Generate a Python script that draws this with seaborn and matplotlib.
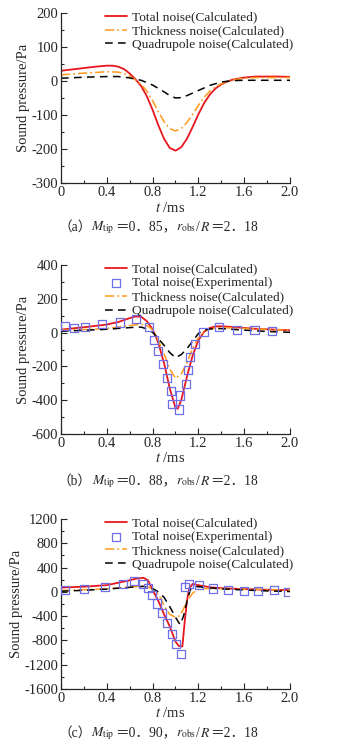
import matplotlib
matplotlib.use('Agg')
import matplotlib.pyplot as plt
import seaborn as sns
from matplotlib.ticker import MultipleLocator
from matplotlib.offsetbox import TextArea, HPacker, AnchoredOffsetbox

# ---- data ----
# (a) M_tip = 0.85
t_a_total = [0, 0.1, 0.2, 0.3, 0.4, 0.45, 0.5, 0.55, 0.6, 0.65, 0.7, 0.75, 0.8, 0.85, 0.9, 0.95,
             1.0, 1.05, 1.1, 1.15, 1.2, 1.25, 1.3, 1.35, 1.4, 1.45, 1.5, 1.6, 1.7, 1.8, 1.9, 2.0]
p_a_total = [30, 34, 38, 42, 45, 45, 42, 35, 22, 5, -15, -45, -85, -130, -170, -197,
             -205, -195, -170, -135, -98, -65, -40, -22, -10, -2, 4, 10, 13, 13, 13, 12]
t_a_thick = [0, 0.2, 0.4, 0.5, 0.55, 0.6, 0.65, 0.7, 0.75, 0.8, 0.85, 0.9, 0.95, 1.0, 1.05,
             1.1, 1.15, 1.2, 1.25, 1.3, 1.35, 1.4, 1.45, 1.5, 1.6, 1.7, 1.8, 2.0]
p_a_thick = [18, 23, 27, 26, 22, 14, 3, -10, -30, -58, -90, -120, -140, -147, -140,
             -122, -98, -72, -48, -30, -17, -8, -2, 3, 8, 10, 10, 10]
t_a_quad = [0, 0.2, 0.4, 0.5, 0.6, 0.7, 0.8, 0.9, 0.95, 1.0, 1.05, 1.1, 1.2, 1.3, 1.4, 1.5, 1.6, 1.8, 2.0]
p_a_quad = [8, 11, 13, 13, 9, 2, -12, -32, -43, -50, -49, -43, -28, -13, -3, 1, 2, 2, 2]

# (b) M_tip = 0.88
t_b_total = [0, 0.1, 0.2, 0.3, 0.4, 0.5, 0.6, 0.65, 0.7, 0.75, 0.8, 0.85, 0.9, 0.95, 1.0, 1.02,
             1.05, 1.1, 1.15, 1.2, 1.25, 1.3, 1.35, 1.4, 1.5, 1.6, 1.7, 1.8, 1.9, 2.0]
p_b_total = [18, 25, 32, 40, 48, 63, 86, 96, 94, 68, 20, -60, -180, -330, -445, -450,
             -400, -260, -135, -45, 5, 28, 37, 38, 33, 28, 23, 20, 17, 14]
t_b_exp = [0.035, 0.11, 0.21, 0.36, 0.515, 0.655, 0.77, 0.812, 0.85, 0.888, 0.929, 0.958, 0.972,
           1.03, 1.04, 1.094, 1.11, 1.13, 1.167, 1.245, 1.38, 1.535, 1.69, 1.84]
p_b_exp = [38, 26, 31, 49, 60, 82, 32, -41, -110, -188, -266, -346, -422,
           -455, -372, -302, -222, -146, -68, 2, 36, 18, 14, 10]
t_b_thick = [0, 0.2, 0.4, 0.6, 0.7, 0.75, 0.8, 0.85, 0.9, 0.95, 1.0, 1.05, 1.1, 1.15, 1.2, 1.25,
             1.3, 1.4, 1.6, 1.8, 2.0]
p_b_thick = [14, 18, 25, 42, 50, 42, 18, -45, -125, -215, -270, -245, -178, -92, -30, 5,
             22, 30, 25, 20, 14]
t_b_quad = [0, 0.2, 0.4, 0.6, 0.7, 0.75, 0.8, 0.85, 0.9, 0.95, 1.0, 1.05, 1.1, 1.15, 1.2, 1.25,
            1.3, 1.4, 1.6, 1.8, 2.0]
p_b_quad = [8, 14, 20, 30, 33, 22, 2, -35, -75, -118, -148, -130, -95, -50, -5, 15,
            22, 24, 15, 7, 2]

# (c) M_tip = 0.90
t_c_total = [0, 0.2, 0.4, 0.6, 0.65, 0.72, 0.76, 0.8, 0.85, 0.9, 0.95, 1.0, 1.03, 1.06, 1.08,
             1.1, 1.12, 1.15, 1.2, 1.3, 1.4, 1.6, 1.8, 2.0]
p_c_total = [70, 85, 110, 190, 215, 232, 190, 30, -150, -370, -570, -820, -895, -900, -500,
             -150, 60, 130, 110, 75, 60, 45, 35, 28]
t_c_exp = [0.035, 0.204, 0.384, 0.539, 0.64, 0.719, 0.757, 0.792, 0.835, 0.885, 0.928, 0.967,
           1.004, 1.045, 1.083, 1.12, 1.208, 1.325, 1.461, 1.598, 1.723, 1.86, 1.985]
p_c_exp = [30, 46, 84, 135, 180, 135, 58, -45, -192, -345, -520, -700,
           -855, -1020, 74, 128, 110, 55, 30, 16, 18, 30, 2]
t_c_thick = [0, 0.2, 0.4, 0.6, 0.72, 0.76, 0.8, 0.85, 0.875, 0.9, 0.95, 1.0, 1.03, 1.06, 1.1,
             1.15, 1.2, 1.25, 1.4, 1.6, 2.0]
p_c_thick = [20, 35, 50, 78, 95, 80, 40, -40, -120, -230, -370, -420, -400, -320, -160,
             -20, 40, 55, 50, 40, 30]
t_c_quad = [0, 0.2, 0.4, 0.6, 0.72, 0.8, 0.85, 0.9, 0.95, 1.0, 1.04, 1.07, 1.1, 1.13, 1.16,
            1.2, 1.3, 1.4, 1.6, 1.8, 2.0]
p_c_quad = [10, 25, 45, 75, 90, 55, 0, -90, -245, -420, -540, -400, -160, 40, 85,
            85, 65, 50, 30, 15, 5]

# caption pieces: plain text parts fall back to the CJK font for the full-width signs
captions = [['（a）', '$M_{\\rm tip}$', '＝0．85，', '$r_{\\rm obs}$', '/', '$R$', '＝2．18'],
            ['（b）', '$M_{\\rm tip}$', '＝0．88，', '$r_{\\rm obs}$', '/', '$R$', '＝2．18'],
            ['（c）', '$M_{\\rm tip}$', '＝0．90，', '$r_{\\rm obs}$', '/', '$R$', '＝2．18']]

RED = '#e8161e'
ORANGE = '#ff9a1a'
BLUE = '#6e6ee6'

sns.set_style('ticks')
plt.rcParams['font.family'] = ['Liberation Serif', 'Noto Sans CJK SC', 'DejaVu Sans']
plt.rcParams['mathtext.fontset'] = 'stix'
plt.rcParams['axes.unicode_minus'] = False
plt.rcParams['font.size'] = 10

fig = plt.figure(figsize=(3.48, 7.45), dpi=100)

# axes boxes in figure fraction (left, bottom, width, height)
boxes = [(0.1753, 0.7544, 0.658, 0.2282),
         (0.1753, 0.4174, 0.658, 0.2268),
         (0.1753, 0.0752, 0.658, 0.2282)]
ylims = [(-300, 200), (-600, 400), (-1600, 1200)]
ymaj = [100, 200, 400]
xlab_y = [208, 458, 713]
cap_y = [228, 482, 734]

panels = [
    (t_a_total, p_a_total, None, None, t_a_thick, p_a_thick, t_a_quad, p_a_quad),
    (t_b_total, p_b_total, t_b_exp, p_b_exp, t_b_thick, p_b_thick, t_b_quad, p_b_quad),
    (t_c_total, p_c_total, t_c_exp, p_c_exp, t_c_thick, p_c_thick, t_c_quad, p_c_quad),
]

for i, (tt, pt, te, pe, th, ph, tq, pq) in enumerate(panels):
    ax = fig.add_axes(boxes[i])
    sns.lineplot(x=tt, y=pt, color=RED, lw=1.3, ax=ax, label='Total noise(Calculated)')
    if te is not None:
        sns.scatterplot(x=te, y=pe, marker='s', s=34, facecolor='none', edgecolor=BLUE,
                        linewidth=0.9, ax=ax, label='Total noise(Experimental)', zorder=3)
    sns.lineplot(x=th, y=ph, color=ORANGE, lw=1.1, ax=ax, label='Thickness noise(Calculated)',
                 linestyle=(0, (6, 2, 1.2, 2)))
    sns.lineplot(x=tq, y=pq, color='black', lw=1.1, ax=ax, label='Quadrupole noise(Calculated)',
                 linestyle=(0, (5, 3.5)))

    ax.set_xlim(0, 2.0)
    ax.set_ylim(*ylims[i])
    ax.xaxis.set_major_locator(MultipleLocator(0.4))
    ax.xaxis.set_minor_locator(MultipleLocator(0.2))
    ax.yaxis.set_major_locator(MultipleLocator(ymaj[i]))
    ax.yaxis.set_minor_locator(MultipleLocator(ymaj[i] / 2))
    ax.xaxis.set_major_formatter(plt.FuncFormatter(lambda v, p: '0' if v == 0 else f'{v:.1f}'))
    ax.tick_params(which='both', direction='in', labelsize=10.5, width=0.8, pad=2)
    ax.tick_params(which='major', length=4)
    ax.tick_params(which='minor', length=2.5)
    sns.despine(ax=ax)
    for sp in ax.spines.values():
        sp.set_linewidth(0.9)
    ax.set_xlabel('')
    ax.set_ylabel('Sound pressure/Pa', fontsize=10.5, labelpad=1)

    ax.legend(loc='upper left', bbox_to_anchor=(0.192, 1.012), frameon=False,
              fontsize=9.6, handlelength=1.65, handletextpad=0.4, labelspacing=0.12,
              borderaxespad=0, borderpad=0)

    fig.text(170 / 348, 1 - xlab_y[i] / 745, '$t$ /ms', ha='center', va='center', fontsize=10.5)

    parts = [TextArea(s, textprops=dict(fontsize=9.8)) for s in captions[i]]
    pack = HPacker(children=parts, align='baseline', pad=0, sep=0)
    anch = AnchoredOffsetbox(loc='center', child=pack, frameon=False, pad=0, borderpad=0,
                             bbox_to_anchor=(158 / 348, 1 - cap_y[i] / 745),
                             bbox_transform=fig.transFigure)
    fig.add_artist(anch)

fig.savefig('out.png', dpi=100)
